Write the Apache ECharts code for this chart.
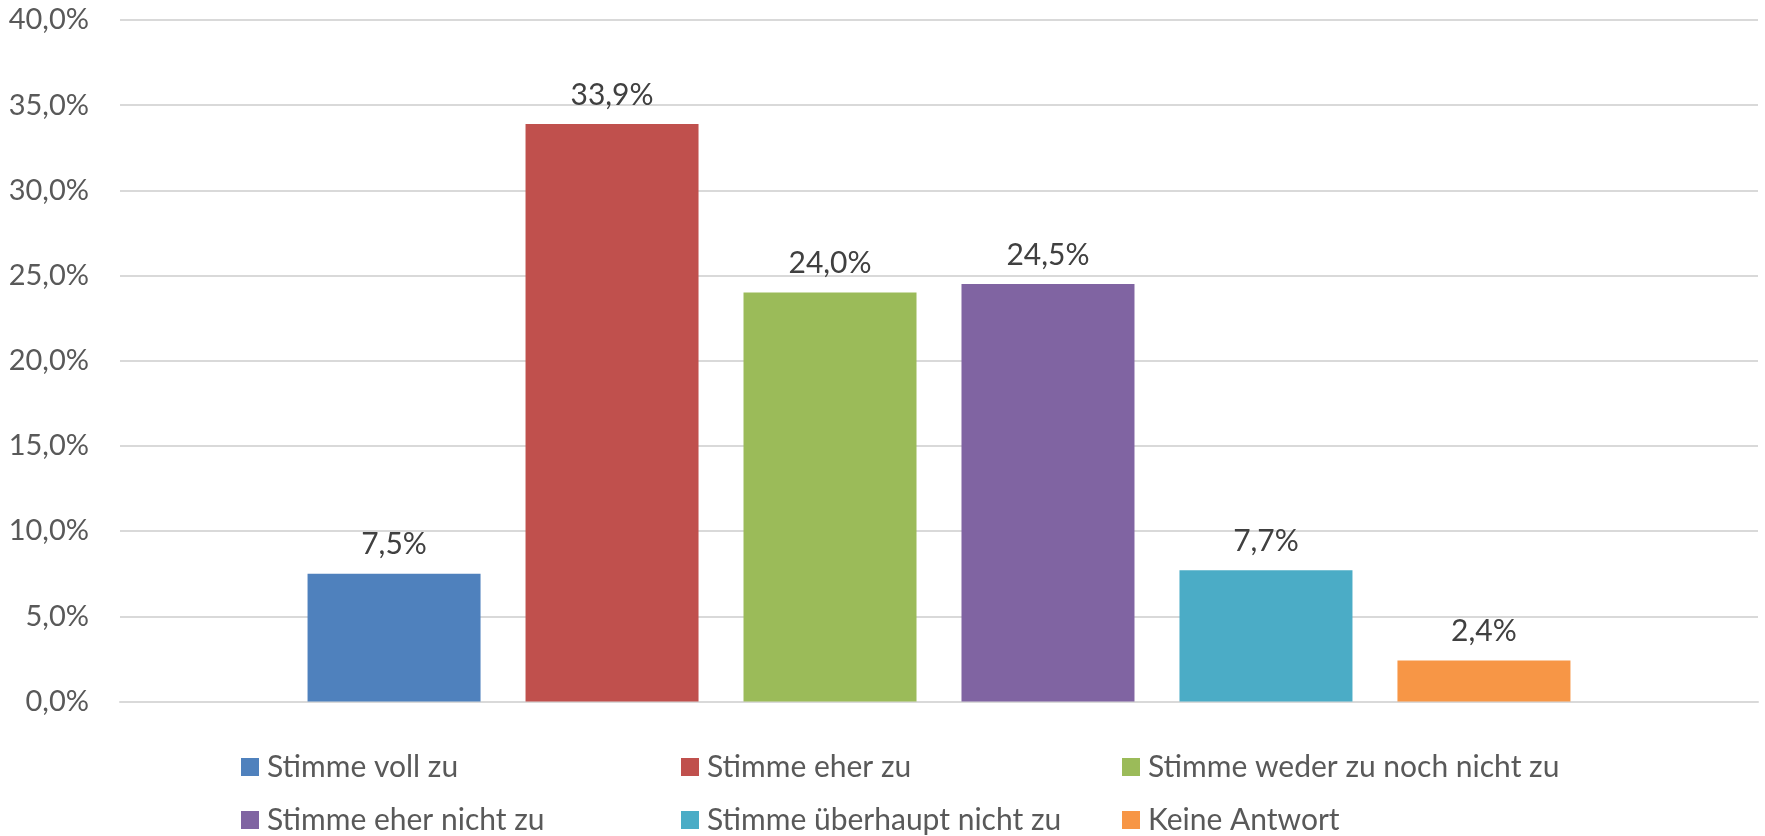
<!DOCTYPE html>
<html>
<head>
<meta charset="utf-8">
<script src="https://cdn.jsdelivr.net/npm/echarts@6/dist/echarts.min.js"></script>
<style>
html,body{margin:0;padding:0;background:#fff;}
#chart{width:1765px;height:836px;}
</style>
</head>
<body>
<div id="chart"></div>
<script>
// Data
const seriesNames = ['Stimme voll zu', 'Stimme eher zu', 'Stimme weder zu noch nicht zu', 'Stimme eher nicht zu', 'Stimme überhaupt nicht zu', 'Keine Antwort'];
const values = [7.5, 33.9, 24.0, 24.5, 7.7, 2.4];
const categories = [''];
const yTicks = { min: 0, max: 40, interval: 5 };

const legendColumns = [
  [seriesNames[0], seriesNames[3]],
  [seriesNames[1], seriesNames[4]],
  [seriesNames[2], seriesNames[5]]
];

const fmt = v => Number(v).toFixed(1).replace('.', ',') + '%';
const FONT = 'Lato, "Noto Sans", sans-serif';

const chart = echarts.init(document.getElementById('chart'), null, { renderer: 'canvas' });

const legendLefts = [241, 681, 1122];

const option = {
  animation: false,
  backgroundColor: '#ffffff',
  color: ['#4F81BD', '#C0504D', '#9BBB59', '#8064A2', '#4BACC6', '#F79646'],
  textStyle: { fontFamily: FONT },
  grid: { left: 120, right: 7, top: 20, bottom: 134.5, containLabel: false },
  legend: legendColumns.map((col, i) => ({
    data: col,
    orient: 'vertical',
    left: legendLefts[i],
    top: 751,
    width: 440,
    height: 200,
    padding: 0,
    icon: 'rect',
    itemWidth: 18,
    itemHeight: 18,
    itemGap: 21,
    selectedMode: false,
    textStyle: { fontFamily: FONT, fontSize: 30, color: '#595959', lineHeight: 32, padding: [0, 0, 0, 3] }
  })),
  xAxis: {
    type: 'category',
    data: categories,
    axisLine: { show: true, lineStyle: { color: '#D9D9D9', width: 2 } },
    axisTick: { show: false },
    axisLabel: { show: false }
  },
  yAxis: {
    type: 'value',
    min: yTicks.min,
    max: yTicks.max,
    interval: yTicks.interval,
    axisLine: { show: false },
    axisTick: { show: false },
    axisLabel: { formatter: fmt, fontFamily: FONT, fontSize: 29, color: '#595959', margin: 31 },
    splitLine: { show: true, lineStyle: { color: '#D9D9D9', width: 2 } }
  },
  series: seriesNames.map((name, i) => ({
    name: name,
    type: 'bar',
    data: [values[i]],
    barWidth: 173,
    barGap: '26%',
    label: {
      show: true,
      position: 'top',
      distance: 14,
      formatter: p => fmt(p.value),
      fontFamily: FONT,
      fontSize: 30,
      color: '#404040'
    }
  }))
};

chart.setOption(option);
</script>
</body>
</html>
